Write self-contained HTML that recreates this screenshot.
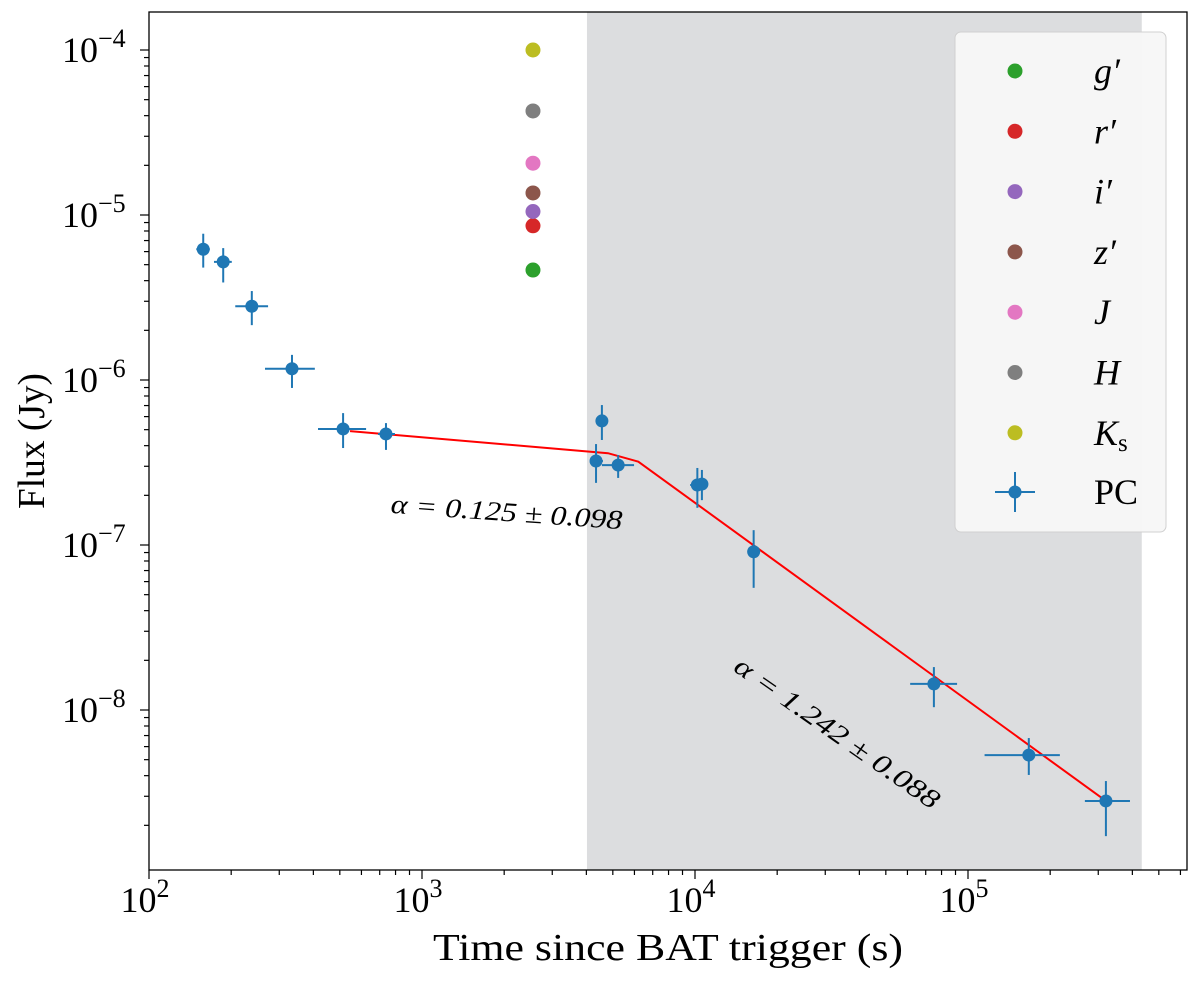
<!DOCTYPE html>
<html><head><meta charset="utf-8"><style>
html,body{margin:0;padding:0;background:#fff}
svg{display:block;font-family:"Liberation Serif",serif}
</style></head><body>
<svg id="chart" width="1200" height="982" viewBox="0 0 1200 982" xmlns="http://www.w3.org/2000/svg"></svg>
<script>
const pcT=[158,187,238,334,514,738,4340,4560,5230,10200,10600,16400,75000,167000,320000];
const pcTlo=[149,173,207,266,416,690,4160,4400,4560,9600,10200,15800,61400,115000,268000];
const pcThi=[167,201,273,405,624,796,4600,4720,5980,10900,11000,17000,91200,217000,392000];
const pcF=[6.2e-6,5.2e-6,2.8e-6,1.17e-6,5.05e-7,4.71e-7,3.23e-7,5.65e-7,3.05e-7,2.31e-7,2.34e-7,9.1e-8,1.44e-8,5.33e-9,2.81e-9];
const pcFlo=[4.8e-6,3.9e-6,2.15e-6,8.95e-7,3.87e-7,3.77e-7,2.38e-7,4.33e-7,2.55e-7,1.68e-7,1.87e-7,5.5e-8,1.04e-8,4.04e-9,1.72e-9];
const pcFhi=[7.7e-6,6.3e-6,3.46e-6,1.42e-6,6.3e-7,5.48e-7,4.09e-7,7.05e-7,3.51e-7,2.93e-7,2.85e-7,1.23e-7,1.82e-8,6.76e-9,3.71e-9];
const fitT=[545,4800,6200,320000];
const fitF=[4.9e-7,3.6e-7,3.2e-7,2.81e-9];
const optBands=["g","r","i","z","J","H","Ks"];
const optT=[2550,2550,2550,2550,2550,2550,2550];
const optF=[4.64e-6,8.6e-6,1.05e-5,1.36e-5,2.06e-5,4.27e-5,1e-4];
const optColors=["#2ca02c","#d62728","#9467bd","#8c564b","#e377c2","#7f7f7f","#bcbd22"];
const shadeRange=[4020,433000];
const xTickExp=[2,3,4,5];
const yTickExp=[-4,-5,-6,-7,-8];

const L=149,R=1187,T=12,B=870;
const X=t=>149+273*(Math.log10(t)-2);
const Y=f=>50+165*(-4-Math.log10(f));
const svg=document.getElementById('chart');
const NS="http://www.w3.org/2000/svg";
function mk(tag,attrs,parent){const e=document.createElementNS(NS,tag);for(const k in attrs)e.setAttribute(k,attrs[k]);(parent||svg).appendChild(e);return e;}

let e=mk('rect',{x:X(shadeRange[0]),y:T,width:X(shadeRange[1])-X(shadeRange[0]),height:B-T,fill:'#dcdddf'});



const tg=mk('g',{stroke:'#000','stroke-width':1.2});


for(let d=2;d<=5;d++){for(let m=1;m<10;m++){const x=X(m*Math.pow(10,d));if(x<L||x>R)continue;const len=m==1?9:5;mk('line',{x1:x,x2:x,y1:B,y2:B+len},tg);}}
for(let d=-9;d<=-4;d++){for(let m=1;m<10;m++){const y=Y(m*Math.pow(10,d));if(y<T||y>B)continue;const len=m==1?9:5;mk('line',{x1:L,x2:L-len,y1:y,y2:y},tg);}}
xTickExp.forEach(p=>{const t=mk('text',{x:X(Math.pow(10,p))-4,y:912,'font-size':36,'text-anchor':'middle'});t.innerHTML='10<tspan dy="-15" font-size="26">'+p+'</tspan>';});
yTickExp.forEach(p=>{const t=mk('text',{x:62,y:Y(Math.pow(10,p))+12,'font-size':36});t.innerHTML='10<tspan dy="-15" font-size="26">\u2212'+(-p)+'</tspan>';});

let pts=fitT.map((t,i)=>X(t)+','+Y(fitF[i])).join(' ');
e=mk('polyline',{points:pts,fill:'none',stroke:'#ff0000','stroke-width':2});



pcT.forEach((t,i)=>{const g=mk('g',{stroke:'#1f77b4','stroke-width':2});


mk('line',{x1:X(pcTlo[i]),x2:X(pcThi[i]),y1:Y(pcF[i]),y2:Y(pcF[i])},g);
mk('line',{x1:X(t),x2:X(t),y1:Y(pcFlo[i]),y2:Y(pcFhi[i])},g);
mk('circle',{cx:X(t),cy:Y(pcF[i]),r:6.5,fill:'#1f77b4',stroke:'none'},g);});

optT.forEach((t,i)=>{const c=mk('circle',{cx:X(t),cy:Y(optF[i]),r:7.5,fill:optColors[i]});

});

e=mk('text',{x:0,y:0,'font-size':27,'font-style':'italic','text-anchor':'middle',textLength:232,lengthAdjust:'spacingAndGlyphs',transform:'translate(506,521) rotate(4)'});


e.textContent='\u03b1 = 0.125 \u00b1 0.098';
e=mk('text',{x:0,y:0,'font-size':27,'font-style':'italic','text-anchor':'middle',textLength:244,lengthAdjust:'spacingAndGlyphs',transform:'translate(832,740) rotate(35)'});


e.textContent='\u03b1 = 1.242 \u00b1 0.088';

e=mk('rect',{x:L,y:T,width:R-L,height:B-T,fill:'none',stroke:'#000','stroke-width':1.3});



const lg=mk('g',{});


mk('rect',{x:955,y:32,width:211,height:500,rx:6,fill:'#f7f7f7','fill-opacity':0.95,stroke:'#d0d0d0'},lg);
const labels=["g\u2032","r\u2032","i\u2032","z\u2032","J","H","K"];
labels.forEach((l,i)=>{const y=71+60.3*i;
const c=mk('circle',{cx:1015,cy:y,r:7.5,fill:optColors[i]},lg);


const t=mk('text',{x:1094,y:y+12,'font-size':36,'font-style':'italic'},lg);


t.innerHTML=l+(i==6?'<tspan font-style="normal" font-size="25" dy="6">s</tspan>':'');});
const py=492;
const pg=mk('g',{stroke:'#1f77b4','stroke-width':2},lg);


mk('line',{x1:995,x2:1035,y1:py,y2:py},pg);mk('line',{x1:1015,x2:1015,y1:py-20,y2:py+20},pg);mk('circle',{cx:1015,cy:py,r:6.5,fill:'#1f77b4',stroke:'none'},pg);
e=mk('text',{x:1094,y:py+12,'font-size':36},lg);


e.textContent='PC';

e=mk('text',{x:668,y:960,'font-size':38,'text-anchor':'middle',textLength:470,lengthAdjust:'spacingAndGlyphs'});


e.textContent='Time since BAT trigger (s)';
e=mk('text',{x:0,y:0,'font-size':38,'text-anchor':'middle',textLength:136,lengthAdjust:'spacingAndGlyphs',transform:'translate(44,441) rotate(-90)'});


e.textContent='Flux (Jy)';
</script>
</body></html>
